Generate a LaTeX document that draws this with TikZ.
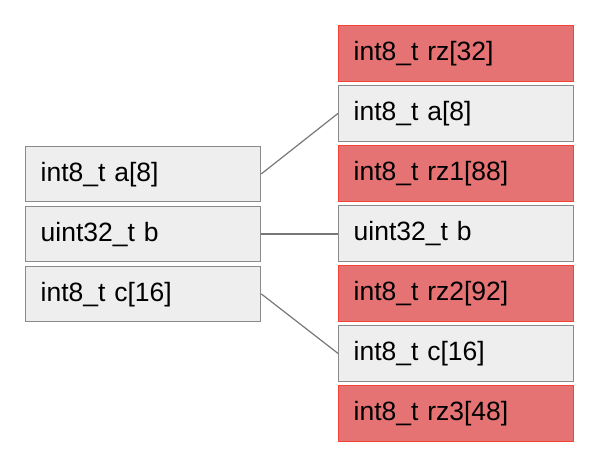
\documentclass[tikz,border=0pt]{standalone}
\usepackage{fontspec}
\setmainfont{Liberation Sans}
\definecolor{boxgray}{HTML}{EEEEEE}
\definecolor{boxline}{HTML}{8A8A8A}
\definecolor{redfill}{HTML}{E57373}
\definecolor{redline}{HTML}{F44336}
\definecolor{conn}{HTML}{777777}
\tikzset{
  field/.style={draw=boxline, fill=boxgray, line width=1.3pt, rectangle, anchor=north west,
    minimum width=235pt, minimum height=55.5pt, text width=205pt, inner xsep=15pt, inner ysep=0pt,
    align=left, text height=19pt, text depth=4.5pt,
    font=\fontsize{26.5}{30}\selectfont},
  pad/.style={field, draw=redline, fill=redfill},
  link/.style={draw=conn, line width=1.2pt}
}
\begin{document}
\begin{tikzpicture}[x=1pt,y=-1pt]
\useasboundingbox (0,0) rectangle (592,459);
\node[field] (la) at (25,145.5) {int8\_t a[8]};
\node[field] (lb) at (25,205.5) {uint32\_t b};
\node[field] (lc) at (25,265.5) {int8\_t c[16]};
\node[pad]   (r0) at (338,25)  {int8\_t rz[32]};
\node[field] (ra) at (338,85)  {int8\_t a[8]};
\node[pad]   (r1) at (338,145) {int8\_t rz1[88]};
\node[field] (rb) at (338,205) {uint32\_t b};
\node[pad]   (r2) at (338,265) {int8\_t rz2[92]};
\node[field] (rc) at (338,325) {int8\_t c[16]};
\node[pad]   (r3) at (338,385) {int8\_t rz3[48]};
\draw[link] (la.east) -- (ra.west);
\draw[link] (lb.east) -- (lb.east -| rb.west);
\draw[link] (lc.east) -- (rc.west);
\end{tikzpicture}
\end{document}
